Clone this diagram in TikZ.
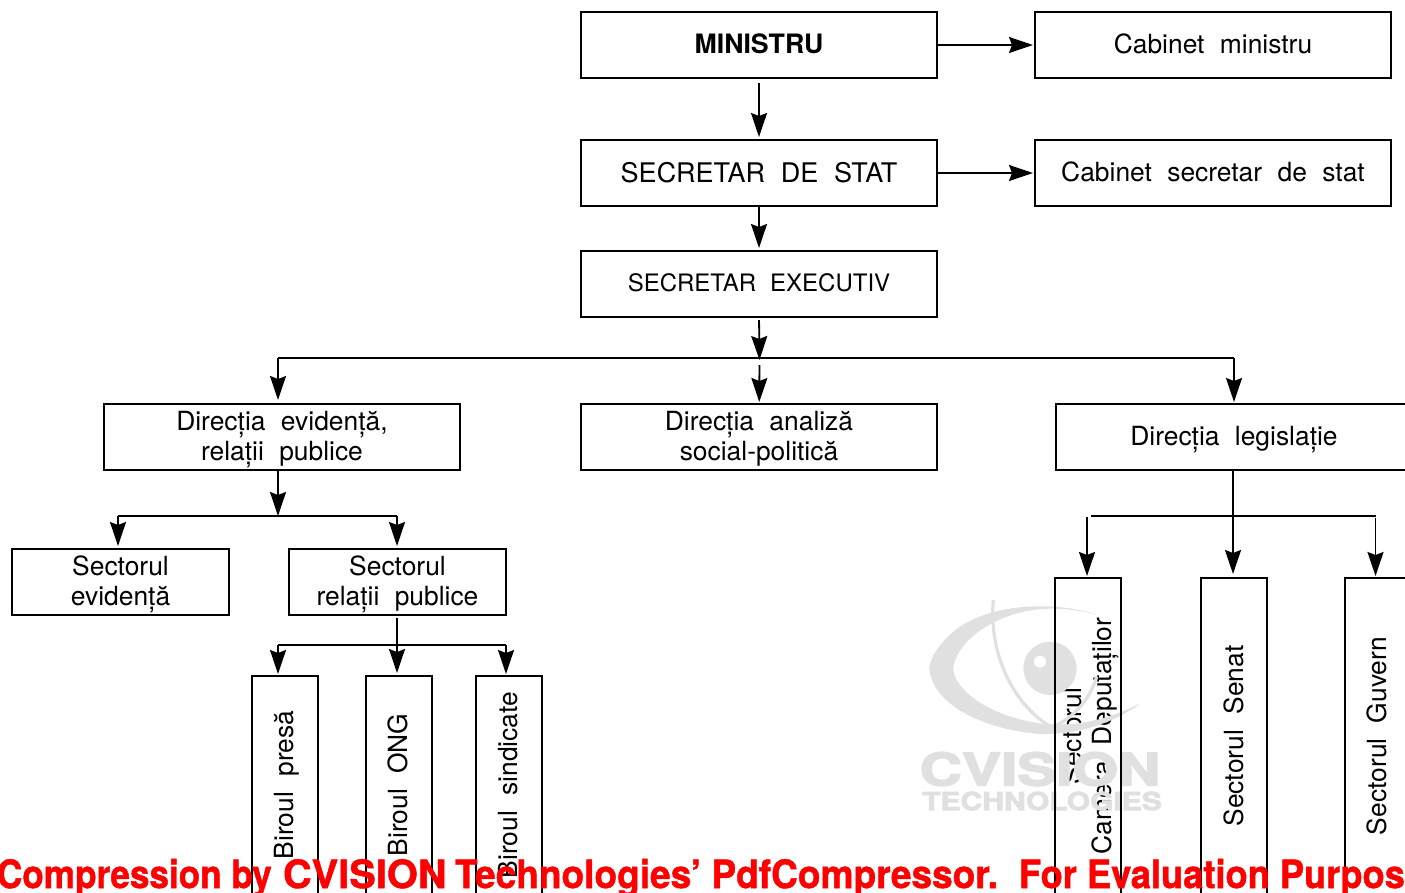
\documentclass[tikz,border=0pt]{standalone}
\usepackage{fontspec}
\setmainfont[WordSpace=2.1]{TeX Gyre Heros}
\newfontfamily\stampfont[FakeBold=1.2]{TeX Gyre Heros Bold}
\newfontfamily\logofont[FakeBold=3]{TeX Gyre Heros Bold}
\usetikzlibrary{arrows.meta,positioning}
\definecolor{stampgray}{gray}{0.88}
\tikzset{
  box/.style={draw, line width=1.8pt, minimum width=356pt, minimum height=66pt, inner sep=0pt, align=center, text depth=2pt, font=\fontsize{26.4}{30}\selectfont},
  smallbox/.style={box, minimum width=217pt},
  vbox/.style={box, rotate=90, anchor=east, minimum width=218pt},
  longbox/.style={vbox, minimum width=316pt},
  link/.style={line width=1.8pt, -{Stealth[length=24pt,width=16pt,inset=3pt]}},
  bus/.style={line width=1.8pt},
  stamp/.style={stampgray, inner sep=0pt},
  redtext/.style={anchor=base west, inner sep=0pt, text=red, font=\stampfont\fontsize{39}{39}\selectfont}
}
\begin{document}
\begin{tikzpicture}[x=1pt,y=-1pt,node distance=0pt,outer sep=0pt]
	\useasboundingbox (0,0) rectangle (1405,892);
	\node (minis) [box,font=\fontsize{26.7}{30}\selectfont\bfseries] at (759,45) {MINISTRU};
	\node (cabmin) [box,right=98pt of minis] {Cabinet ministru};
	\node (secstat) [box,below=62pt of minis,font=\fontsize{27}{30}\selectfont] {SECRETAR DE STAT};
	\node (cabsec) [box,right=98pt of secstat] {Cabinet secretar de stat};
	\node (secex) [box,below=45pt of secstat,font=\fontsize{24}{30}\selectfont] {SECRETAR EXECUTIV};
	\node (diran) [box,below=87pt of secex] {Direcția analiză\\social-politică};
	\node (direv) [box,left=121pt of diran] {Direcția evidență,\\relații publice};
	\node (dirleg) [box,right=119pt of diran] {Direcția legislație};
	\node (secev) [smallbox,anchor=north] at (120.5,549) {Sectorul\\evidență};
	\node (secrel) [smallbox,anchor=north] at (397.5,549) {Sectorul\\relații publice};
	\node (birpresa) [vbox] at (285,676) {Biroul presă};
	\node (birong) [vbox] at (399,676) {Biroul ONG};
	\node (birsind) [vbox] at (509,676) {Biroul sindicate};
	\node (secsen) [longbox] at (1234.3,578) {Sectorul Senat};
	\node (secguv) [longbox] at (1378,578) {Sectorul Guvern};
	\node (seccam) [longbox,draw=none] at (1088,578) {Sectorul\\Camera Deputaților};
	\begin{scope}[shift={(900,560)},scale=1/3]
		\fill[stampgray] (590,165) .. controls (500,130) and (300,120) .. (180,200) .. controls (110,250) and (80,310) .. (90,340) .. controls (110,440) and (260,510) .. (420,522) .. controls (530,525) and (640,490) .. (722,430) .. controls (640,470) and (540,505) .. (420,490) .. controls (280,470) and (170,400) .. (160,330) .. controls (160,260) and (260,170) .. (400,150) .. controls (470,140) and (540,150) .. (590,165);
		\draw[stampgray,line width=3.2pt] (280,120) .. controls (265,280) and (340,450) .. (480,515);
		\draw[stampgray,line width=3.2pt] (590,350) .. controls (570,420) and (520,470) .. (470,495);
		\fill[stampgray] (450,325) circle (80);
		\fill[white] (420,305) circle (18);
	\end{scope}
	\node (stampa) [stamp,xscale=1.3,font=\logofont\fontsize{45}{45}\selectfont] at (1040,769) {CVISION};
	\node (stampb) [stamp,xscale=1.2,font=\logofont\fontsize{25}{25}\selectfont] at (1042,801) {TECHNOLOGIES};
	\draw[line width=1.8pt] (seccam.north west) -- (seccam.north east) -- (seccam.south east) -- (seccam.south west) -- cycle;
	\coordinate (busl) at (278,358);
	\coordinate (busm) at (759.5,358);
	\coordinate (busr) at (1234,358);
	\coordinate (lefta) at (118,516);
	\coordinate (leftb) at (278,516);
	\coordinate (leftc) at (397,516);
	\coordinate (midp) at (278,645);
	\coordinate (midq) at (397,645);
	\coordinate (midr) at (506,645);
	\coordinate (rightp) at (1091,516);
	\coordinate (rightq) at (1233,516);
	\coordinate (rightr) at (1376,516);
	\coordinate (camtop) at (1087,517);
	\coordinate (guvtop) at (1375.5,518);
	\path (minis) edge [link,shorten <=5pt,shorten >=3pt] (secstat);
	\path (secstat) edge [link,shorten >=3pt] (secex);
	\path (minis) edge [link,shorten >=2pt] (cabmin);
	\path (secstat) edge [link,shorten >=2pt] (cabsec);
	\draw[bus] (busl) -- (busr);
	\path (secex.south) edge [link,shorten <=3pt,shorten >=-2pt] (busm);
	\path (busm) edge [link,shorten <=7pt,shorten >=2pt] (diran);
	\path (busl) edge [link,shorten >=4pt] (busl |- direv.north);
	\path (busr) edge [link,shorten >=2pt] (busr |- dirleg.north);
	\path (leftb |- direv.south) edge [link] (leftb);
	\draw[bus] (lefta) -- (leftc);
	\path (lefta) edge [link,shorten >=3pt] (lefta |- secev.north);
	\path (leftc) edge [link,shorten >=3pt] (leftc |- secrel.north);
	\path (midq |- secrel.south) edge [link,shorten <=3pt,shorten >=3pt] (midq |- birong.east);
	\draw[bus] (midp) -- (midr);
	\path (midp) edge [link,shorten >=2pt] (midp |- birpresa.east);
	\path (midr) edge [link,shorten >=2pt] (midr |- birsind.east);
	\path (rightq |- dirleg.south) edge [link,shorten >=4pt] (rightq |- secsen.east);
	\draw[bus] (rightp) -- (rightr);
	\path (camtop) edge [link,shorten >=2pt] (camtop |- seccam.east);
	\path (guvtop) edge [link,shorten >=2pt] (guvtop |- secguv.east);
	\node (reda) [redtext,xscale=0.9] at (-3,888) {Compression by};
	\node (redb) [redtext,xscale=1.02] at (283,888) {CVISION};
	\node (redc) [redtext,xscale=0.95] at (455,888) {Technologies’ PdfCompressor.};
	\node (redd) [redtext,xscale=0.93] at (1019,888) {For Evaluation Purposes Only};
\end{tikzpicture}
\end{document}
